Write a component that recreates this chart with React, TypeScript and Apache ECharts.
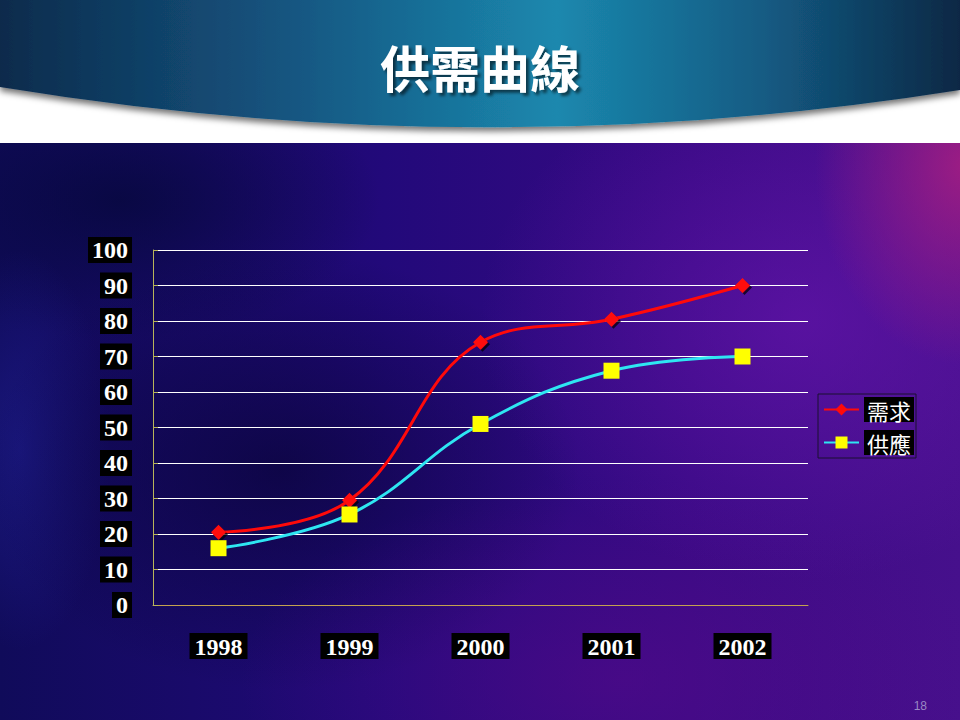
import { useEffect, useRef } from 'react'
import * as echarts from 'echarts'

const years = ['1998', '1999', '2000', '2001', '2002']
const demand = [20.5, 29.5, 74, 80.5, 90]
const supply = [16, 25.5, 51, 66, 70]
const yTicks = { min: 0, max: 100, interval: 10 }

const titleText = '供需曲線'
const pageNo = '18'

echarts.graphic.registerShape(
  'headerBand',
  echarts.graphic.extendPath('M0 0 L960 0 L960 90 Q480 166 0 87 Z', {}),
)

const labelBox = {
  color: '#fff',
  fontFamily: '"Liberation Serif", "Times New Roman", serif',
  fontSize: 24,
  fontWeight: 'bold',
  backgroundColor: '#000',
}

export default function App() {
  const chartRef = useRef<HTMLDivElement>(null)

  useEffect(() => {
    if (!chartRef.current) return
    const chart = echarts.init(chartRef.current, undefined, { renderer: 'svg' })

    const option = {
      animation: false,
      title: {
        text: titleText,
        left: 'center',
        top: 36,
        z: 10,
        textStyle: {
          color: '#fff',
          fontSize: 50,
          fontWeight: 'bold',
          fontFamily: '"Noto Sans CJK TC", sans-serif',
          textShadowColor: 'rgba(0,0,0,0.55)',
          textShadowBlur: 3,
          textShadowOffsetX: 3,
          textShadowOffsetY: 3,
        },
      },
      graphic: [
        {
          type: 'headerBand',
          x: 0,
          y: 0,
          z: 0,
          style: {
            fill: new echarts.graphic.LinearGradient(0, 0, 1, 0, [
              { offset: 0, color: '#0c2b4c' },
              { offset: 0.3, color: '#155580' },
              { offset: 0.58, color: '#1b88ae' },
              { offset: 0.8, color: '#135a82' },
              { offset: 1, color: '#0c2845' },
            ]),
            shadowBlur: 6,
            shadowColor: 'rgba(0,0,0,0.55)',
            shadowOffsetY: 4,
          },
        },
        {
          type: 'text',
          right: 33,
          bottom: 8,
          style: {
            text: pageNo,
            fill: '#9a88c4',
            font: '12px "Liberation Sans", Arial, sans-serif',
          },
        },
      ],
      legend: {
        orient: 'vertical',
        left: 818,
        top: 394,
        padding: [3, 2, 3, 5],
        borderColor: '#1a1030',
        borderWidth: 1,
        itemWidth: 35,
        itemHeight: 15,
        itemGap: 8,
        textStyle: {
          color: '#fff',
          fontSize: 22,
          lineHeight: 24,
          fontFamily: '"Noto Sans CJK TC", sans-serif',
          backgroundColor: '#000',
          padding: [1, 3, 0, 3],
        },
        data: ['需求', '供應'],
      },
      grid: {
        left: 153,
        right: 152,
        top: 250,
        bottom: 115,
      },
      xAxis: {
        type: 'category',
        data: years,
        boundaryGap: true,
        axisLine: { lineStyle: { color: '#c4a24e', width: 1 } },
        axisTick: { inside: true, length: 8, lineStyle: { color: '#c4a24e' } },
        axisLabel: { ...labelBox, margin: 28, padding: [2, 5, 0, 5] },
        splitLine: { show: false },
      },
      yAxis: {
        type: 'value',
        ...yTicks,
        axisLine: { show: true, lineStyle: { color: '#b8b45a', width: 1 } },
        axisTick: { show: true, inside: true, length: 5, lineStyle: { color: '#b8b45a' } },
        axisLabel: { ...labelBox, margin: 21, padding: [2, 4, 0, 4] },
        splitLine: { show: true, lineStyle: { color: '#ffffff', width: 1 } },
      },
      series: [
        {
          name: '需求',
          type: 'line',
          data: demand,
          smooth: 0.4,
          symbol: 'diamond',
          symbolSize: 15,
          lineStyle: { color: '#ff0a0a', width: 3 },
          itemStyle: {
            color: '#ff0a0a',
            shadowColor: 'rgba(0,0,0,0.7)',
            shadowOffsetX: 2,
            shadowOffsetY: 2,
          },
          z: 3,
        },
        {
          name: '供應',
          type: 'line',
          data: supply,
          smooth: 0.4,
          symbol: 'rect',
          symbolSize: 16,
          lineStyle: { color: '#2ee6f2', width: 3 },
          itemStyle: { color: '#ffff00' },
          z: 4,
        },
      ],
    }

    chart.setOption(option)
    return () => {
      chart.dispose()
    }
  }, [])

  const pageStyle: React.CSSProperties = {
    position: 'absolute',
    left: 0,
    top: 0,
    width: 960,
    height: 720,
    overflow: 'hidden',
    background: [
      'linear-gradient(to bottom, #ffffff 0, #ffffff 143px, transparent 143px)',
      'radial-gradient(ellipse 150px 200px at 965px 165px, rgba(165,30,130,0.9), rgba(165,30,130,0) 100%)',
      'radial-gradient(ellipse 320px 260px at 800px 320px, rgba(110,22,180,0.55), rgba(110,22,180,0) 100%)',
      'radial-gradient(ellipse 380px 200px at 620px 680px, rgba(90,10,140,0.5), rgba(90,10,140,0) 100%)',
      'radial-gradient(ellipse 300px 220px at 280px 470px, rgba(8,4,55,0.7), rgba(8,4,55,0) 100%)',
      'radial-gradient(ellipse 90px 200px at 20px 450px, rgba(35,35,160,0.5), rgba(35,35,160,0) 100%)',
      'radial-gradient(ellipse 260px 140px at 120px 200px, rgba(6,8,60,0.8), rgba(6,8,60,0) 100%)',
      'linear-gradient(to right, #100b5a 0%, #22097a 40%, #380a84 72%, #46108c 100%)',
    ].join(', '),
  }

  return (
    <div style={pageStyle}>
      <div ref={chartRef} style={{ width: 960, height: 720 }} />
    </div>
  )
}
